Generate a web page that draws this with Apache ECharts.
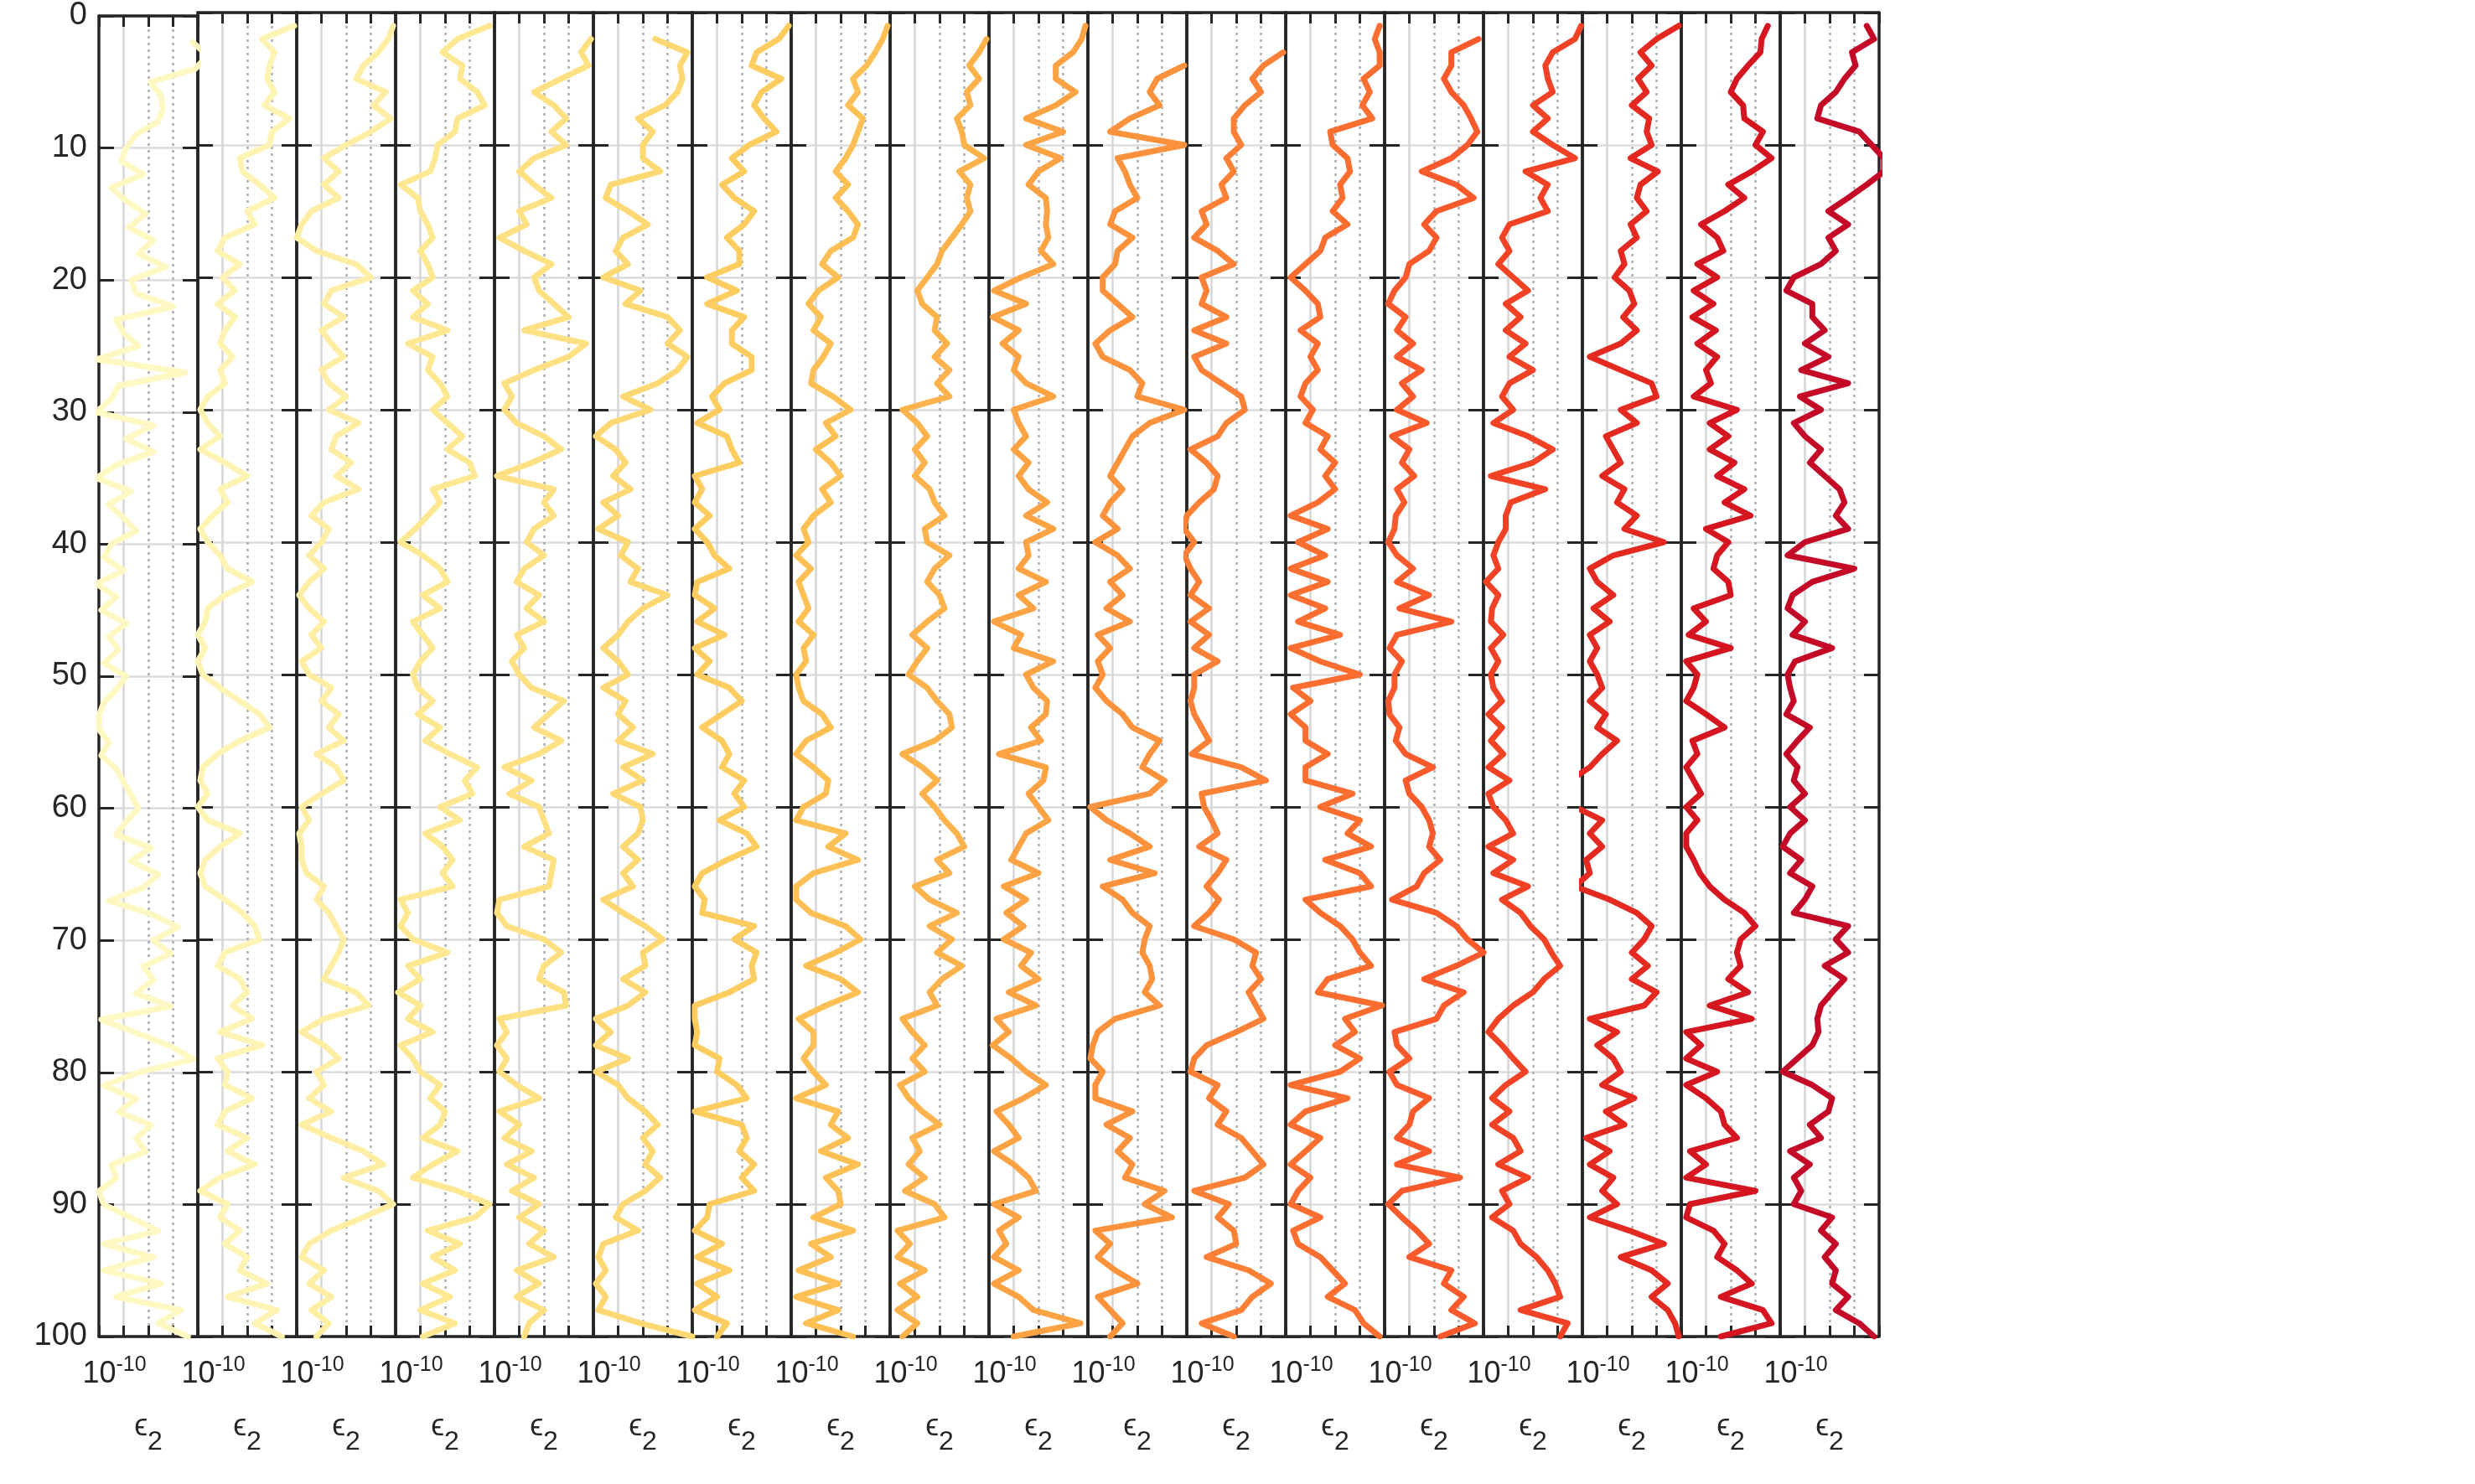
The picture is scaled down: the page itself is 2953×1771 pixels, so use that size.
<!DOCTYPE html>
<html><head><meta charset="utf-8">
<script src="https://cdn.jsdelivr.net/npm/echarts@6/dist/echarts.min.js"></script>
<style>html,body{margin:0;padding:0;background:#fff}#c{width:2953px;height:1771px}</style>
</head><body><div id="c"></div>
<script>
// depth samples (y axis, reversed)
const depth = [1,2,3,4,5,6,7,8,9,10,11,12,13,14,15,16,17,18,19,20,21,22,23,24,25,26,27,28,29,30,31,32,33,34,35,36,37,38,39,40,41,42,43,44,45,46,47,48,49,50,51,52,53,54,55,56,57,58,59,60,61,62,63,64,65,66,67,68,69,70,71,72,73,74,75,76,77,78,79,80,81,82,83,84,85,86,87,88,89,90,91,92,93,94,95,96,97,98,99,100];
const yTickValues = [0,10,20,30,40,50,60,70,80,90,100];
const xTickLabelBase = '10';
const xTickLabelExp = '-10';
const xName = ['\u03F5','2'];
// log10(epsilon_2) (null = no sample drawn)
const logEps01 = [null,-7.2,-6.6,-7.1,-8.9,-8.5,-8.4,-8.6,-9.5,-9.9,-10.1,-9.2,-10.5,-9.9,-9.1,-9.8,-8.8,-9.4,-8.3,-9.7,-9.5,-8.0,-10.3,-10.0,-9.4,-11.1,-7.5,-10.2,-10.5,-11.1,-8.8,-9.9,-8.8,-10.3,-11.1,-9.7,-10.6,-10.0,-9.5,-10.5,-10.8,-10.0,-11.1,-10.3,-10.9,-9.9,-10.6,-10.2,-10.8,-9.9,-10.3,-10.8,-11.0,-11.0,-10.6,-10.9,-10.3,-10.0,-9.7,-9.4,-9.9,-10.3,-8.9,-9.7,-8.6,-9.2,-10.6,-8.9,-7.8,-8.8,-8.1,-9.2,-8.8,-9.5,-8.1,-10.9,-9.5,-8.1,-7.2,-9.4,-10.8,-9.5,-10.2,-8.9,-9.5,-9.1,-10.5,-10.3,-11.0,-10.8,-9.7,-8.6,-10.8,-8.8,-10.8,-8.5,-10.3,-7.7,-8.6,-7.4];
const logEps02 = [-7.1,-8.4,-7.9,-8.1,-8.2,-7.9,-8.3,-7.3,-8.0,-8.1,-9.3,-9.2,-8.5,-7.9,-9.0,-8.7,-9.9,-10.2,-9.3,-10.0,-9.5,-10.2,-9.5,-9.9,-10.1,-9.6,-10.1,-9.9,-10.6,-10.9,-10.6,-10.1,-10.9,-9.9,-9.0,-10.1,-9.8,-10.4,-10.9,-10.6,-10.1,-9.8,-8.8,-9.9,-10.6,-10.7,-11.0,-10.7,-11.0,-10.8,-10.1,-9.3,-8.5,-8.1,-9.3,-10.2,-10.8,-10.9,-10.6,-11.0,-10.6,-9.3,-10.1,-10.7,-10.9,-10.7,-9.9,-9.2,-8.7,-8.5,-9.9,-10.2,-9.3,-9.0,-9.6,-8.8,-10.1,-8.4,-10.2,-9.8,-9.9,-8.8,-9.9,-10.2,-9.0,-9.8,-8.7,-10.1,-10.9,-9.8,-10.1,-9.3,-9.9,-9.0,-9.3,-8.2,-9.8,-7.8,-8.7,-7.6];
const logEps03 = [-7.1,-7.3,-7.7,-8.3,-8.6,-7.4,-7.9,-7.2,-8.0,-9.0,-9.9,-9.3,-9.9,-9.3,-10.4,-10.8,-11.0,-10.2,-8.6,-8.0,-9.6,-9.9,-9.1,-10.0,-9.6,-9.1,-10.0,-9.7,-9.0,-9.7,-8.5,-9.4,-9.6,-8.8,-9.4,-8.5,-9.9,-10.4,-9.7,-10.0,-10.5,-9.9,-10.5,-10.9,-10.5,-9.9,-10.4,-10.0,-10.8,-10.5,-9.6,-10.0,-9.3,-9.7,-9.1,-10.2,-9.4,-9.1,-10.0,-10.8,-10.5,-10.9,-10.8,-10.8,-10.6,-9.9,-10.2,-9.7,-9.4,-9.1,-9.3,-9.6,-9.9,-8.6,-8.1,-9.9,-10.8,-9.9,-9.3,-10.2,-9.9,-10.5,-9.6,-10.8,-9.6,-8.3,-7.5,-9.1,-7.7,-7.1,-8.3,-9.6,-10.5,-10.8,-9.9,-10.5,-9.6,-10.4,-9.7,-10.2];
const logEps04 = [-7.2,-8.5,-9.1,-8.3,-8.4,-7.7,-7.4,-8.5,-8.6,-9.3,-9.4,-9.6,-10.8,-10.1,-10.0,-9.7,-9.5,-10.0,-9.7,-9.5,-10.3,-9.7,-10.3,-8.9,-10.5,-9.5,-9.7,-9.2,-8.9,-9.5,-8.9,-8.3,-8.9,-8.0,-7.8,-9.5,-9.2,-9.7,-10.2,-10.8,-9.9,-9.2,-8.9,-9.9,-9.2,-10.3,-9.9,-9.5,-10.0,-10.3,-10.1,-9.5,-10.1,-9.2,-9.8,-8.8,-7.7,-8.2,-7.9,-9.2,-8.4,-9.8,-9.1,-8.7,-9.1,-8.7,-10.8,-10.5,-10.8,-10.3,-8.9,-10.5,-10.0,-10.9,-10.0,-10.5,-9.5,-10.8,-10.3,-10.0,-9.2,-9.6,-9.0,-9.2,-9.9,-8.5,-9.5,-10.3,-8.5,-7.2,-7.8,-9.7,-8.4,-9.5,-8.6,-9.9,-8.8,-10.0,-8.6,-9.9];
const logEps05 = [null,-7.1,-7.5,-7.2,-8.3,-9.4,-8.6,-8.1,-8.7,-8.1,-9.4,-10.0,-9.4,-8.7,-10.0,-9.7,-10.8,-9.8,-8.7,-9.4,-9.2,-8.6,-8.0,-9.8,-7.3,-8.0,-9.4,-10.6,-10.3,-10.6,-10.1,-9.0,-8.3,-9.5,-10.9,-8.6,-9.0,-8.6,-9.4,-9.7,-9.0,-9.8,-10.1,-9.2,-9.7,-9.0,-10.1,-9.8,-10.3,-10.0,-9.5,-8.2,-8.8,-9.4,-8.3,-9.2,-10.6,-9.5,-10.4,-9.2,-9.0,-8.8,-9.8,-8.6,-8.7,-8.8,-10.8,-10.9,-10.5,-9.0,-8.3,-9.0,-9.2,-8.2,-8.1,-10.8,-10.5,-10.9,-10.5,-10.8,-10.1,-9.2,-10.8,-10.0,-10.6,-9.5,-10.5,-9.4,-10.3,-9.2,-10.0,-9.0,-9.6,-8.6,-10.1,-9.2,-10.1,-9.0,-9.6,-9.8];
const logEps06 = [null,-8.5,-7.2,-7.5,-7.4,-7.6,-8.1,-9.2,-8.6,-9.0,-9.0,-8.3,-10.3,-10.5,-9.6,-8.8,-9.8,-10.1,-9.6,-10.6,-9.1,-9.7,-8.0,-7.5,-8.0,-7.2,-7.6,-8.4,-9.8,-8.7,-10.3,-10.9,-10.1,-9.7,-10.2,-9.5,-10.6,-10.0,-10.8,-9.6,-9.9,-9.2,-9.5,-8.0,-9.0,-9.6,-10.0,-10.6,-10.0,-9.6,-10.6,-9.7,-10.0,-9.4,-10.0,-8.6,-9.8,-9.0,-10.2,-9.1,-9.0,-9.2,-9.8,-9.2,-9.8,-9.4,-10.6,-9.8,-8.9,-8.2,-9.0,-8.9,-9.8,-8.9,-9.6,-10.9,-10.3,-10.9,-9.6,-10.9,-10.0,-9.6,-8.9,-8.4,-9.0,-8.6,-8.9,-8.3,-8.9,-9.8,-10.1,-9.2,-10.6,-10.8,-10.5,-10.9,-10.5,-10.8,-9.1,-7.0];
const logEps07 = [-7.1,-7.5,-8.4,-8.6,-7.4,-8.2,-8.5,-8.1,-7.6,-8.7,-9.4,-8.9,-9.8,-9.3,-8.5,-8.9,-9.6,-9.1,-9.1,-10.4,-9.2,-10.4,-8.9,-9.4,-9.4,-8.6,-8.6,-9.7,-10.2,-9.9,-10.8,-9.6,-9.4,-9.1,-10.9,-10.6,-10.9,-10.3,-10.9,-10.4,-10.1,-9.5,-10.8,-10.9,-10.1,-10.8,-9.7,-10.9,-10.3,-10.8,-9.5,-9.0,-9.8,-10.6,-9.8,-9.5,-9.8,-8.9,-9.3,-8.9,-9.9,-8.8,-8.4,-9.6,-10.6,-10.9,-10.5,-10.6,-8.5,-9.3,-8.4,-8.6,-8.5,-9.5,-10.9,-10.9,-10.8,-10.9,-9.9,-10.0,-9.2,-8.8,-10.9,-9.0,-8.8,-9.1,-8.5,-9.0,-8.5,-10.3,-10.4,-10.9,-9.8,-10.8,-9.5,-10.8,-10.0,-10.9,-9.6,-10.0];
const logEps08 = [-7.1,-7.3,-7.6,-7.95,-8.5,-8.3,-8.7,-8.1,-8.3,-8.5,-8.8,-9.2,-8.7,-9.2,-8.7,-8.3,-8.5,-9.4,-9.75,-9.1,-9.9,-10.3,-9.8,-10.1,-9.4,-9.7,-10.1,-10.2,-9.3,-8.6,-9.6,-9.2,-10.0,-9.4,-9.0,-9.75,-9.4,-10.1,-10.5,-10.3,-10.8,-10.2,-10.7,-10.5,-10.3,-10.7,-10.1,-10.5,-10.4,-10.8,-10.7,-10.5,-9.75,-9.4,-10.4,-10.8,-10.1,-9.5,-9.6,-10.5,-10.8,-8.8,-9.5,-8.3,-10.1,-10.8,-10.8,-10.2,-8.8,-8.2,-9.2,-10.4,-9.0,-8.3,-9.6,-10.7,-10.1,-10.1,-10.5,-10.1,-9.6,-10.8,-9.1,-9.4,-8.7,-9.8,-8.3,-9.6,-9.1,-9.0,-10.1,-8.5,-10.2,-9.4,-10.7,-9.1,-10.8,-9.1,-10.4,-8.5];
const logEps09 = [null,-7.1,-7.4,-7.8,-7.4,-7.9,-7.75,-8.3,-8.1,-8.0,-7.2,-8.2,-7.75,-7.9,-7.75,-8.1,-8.5,-8.9,-9.1,-9.5,-9.9,-9.7,-9.1,-9.2,-8.7,-9.2,-8.6,-9.1,-8.6,-10.5,-9.9,-9.5,-10.0,-9.6,-10.0,-9.4,-9.2,-8.8,-9.6,-9.5,-8.6,-9.2,-9.5,-9.0,-8.8,-9.5,-10.1,-9.5,-9.9,-10.25,-9.5,-9.1,-8.6,-8.5,-9.2,-10.5,-9.7,-9.1,-9.7,-9.2,-8.8,-8.3,-8.0,-9.1,-8.6,-10.0,-9.4,-8.3,-9.4,-8.5,-9.1,-8.1,-8.9,-9.4,-9.1,-10.5,-10.1,-9.6,-10.1,-9.6,-10.6,-10.25,-9.7,-9.0,-10.1,-9.8,-10.25,-9.6,-10.4,-9.2,-8.8,-10.7,-10.2,-10.7,-9.6,-10.6,-9.9,-10.7,-9.9,-10.5];
const logEps10 = [-7.1,-7.25,-7.6,-8.3,-8.3,-7.5,-8.3,-9.5,-8.0,-9.5,-8.1,-9.0,-9.4,-8.7,-8.65,-8.7,-8.6,-8.9,-8.4,-9.7,-10.8,-9.5,-10.85,-9.8,-10.45,-9.8,-10.0,-9.5,-8.4,-10.0,-9.8,-9.5,-10.0,-9.4,-9.8,-9.4,-8.65,-9.5,-8.4,-9.5,-9.4,-9.8,-8.7,-9.8,-9.2,-10.8,-9.7,-10.0,-8.4,-9.5,-9.2,-8.65,-8.7,-9.3,-8.9,-10.6,-8.7,-8.8,-9.4,-9.0,-8.6,-9.5,-9.8,-10.1,-9.0,-10.4,-9.5,-10.3,-9.6,-10.4,-9.3,-9.7,-9.0,-10.2,-9.1,-10.7,-10.2,-10.85,-10.1,-9.5,-8.7,-9.6,-10.7,-10.2,-9.8,-10.8,-10.0,-9.4,-9.1,-10.8,-9.8,-10.6,-10.3,-10.8,-9.8,-10.8,-9.8,-9.2,-7.3,-10.0];
const logEps11 = [null,null,null,-7.1,-8.2,-8.5,-8.1,-9.3,-10.1,-7.1,-9.8,-9.5,-9.3,-9.0,-9.9,-10.1,-9.2,-9.8,-9.9,-10.4,-10.4,-9.8,-9.2,-10.1,-10.7,-10.4,-9.3,-8.8,-9.0,-7.1,-8.5,-9.2,-9.5,-9.8,-10.1,-9.6,-10.1,-10.4,-9.8,-10.7,-9.8,-9.3,-10.1,-9.6,-10.25,-9.3,-10.6,-10.1,-10.6,-10.4,-10.7,-10.25,-9.6,-9.2,-8.1,-8.5,-8.8,-7.9,-8.5,-10.9,-10.25,-9.3,-8.5,-10.1,-8.3,-10.4,-9.6,-9.2,-8.5,-8.7,-8.8,-8.5,-8.4,-8.7,-8.1,-9.9,-10.6,-10.8,-10.9,-10.4,-10.7,-10.7,-9.2,-10.25,-9.3,-9.8,-9.2,-9.5,-7.9,-8.7,-7.6,-10.7,-10.1,-10.6,-9.9,-9.0,-10.6,-10.1,-9.6,-10.1];
const logEps12 = [null,null,-7.1,-7.9,-8.35,-8.0,-8.65,-9.1,-9.1,-8.8,-9.4,-9.1,-9.6,-9.4,-10.4,-10.2,-10.7,-9.75,-9.1,-10.4,-10.2,-10.4,-9.4,-10.7,-9.4,-10.7,-10.4,-9.6,-8.8,-8.65,-9.4,-9.75,-10.85,-10.2,-9.75,-9.9,-10.5,-11.0,-11.1,-10.7,-11.1,-10.85,-10.5,-10.85,-10.1,-10.85,-10.1,-10.7,-9.75,-10.7,-10.7,-10.85,-10.7,-10.4,-10.1,-10.8,-8.8,-7.8,-10.4,-10.3,-10.0,-9.75,-10.5,-9.4,-9.75,-10.2,-9.7,-10.1,-10.7,-9.1,-8.2,-8.35,-8.0,-8.5,-8.2,-7.9,-9.0,-10.2,-10.7,-10.85,-9.75,-10.1,-9.4,-9.75,-8.8,-8.35,-7.9,-8.65,-10.7,-9.3,-9.75,-9.1,-9.0,-10.2,-8.5,-7.6,-8.35,-8.8,-10.4,-9.1];
const logEps13 = [-7.2,-7.4,-7.2,-7.2,-7.85,-7.6,-7.9,-7.5,-9.2,-9.1,-8.5,-8.4,-8.8,-8.7,-9.1,-8.5,-9.4,-9.6,-10.2,-10.8,-10.2,-9.7,-9.6,-10.4,-9.7,-10.0,-9.7,-10.2,-10.4,-9.9,-10.2,-9.3,-9.6,-9.0,-9.4,-9.0,-9.7,-10.8,-9.3,-10.5,-9.4,-10.8,-9.3,-10.8,-9.4,-10.5,-8.8,-10.8,-9.6,-8.0,-10.7,-10.0,-10.8,-10.2,-10.2,-9.3,-10.2,-10.2,-8.3,-9.6,-8.0,-8.5,-7.55,-9.4,-8.0,-7.55,-10.2,-9.6,-8.8,-8.3,-8.0,-7.55,-9.3,-9.7,-7.1,-8.6,-8.2,-9.0,-8.0,-8.8,-10.8,-8.5,-10.2,-10.8,-9.6,-10.2,-10.8,-10.0,-10.5,-10.8,-9.6,-10.7,-10.5,-9.6,-9.1,-8.6,-9.3,-8.2,-7.85,-7.2];
const logEps14 = [null,-7.2,-8.3,-8.3,-8.6,-8.3,-7.8,-7.5,-7.25,-7.65,-8.3,-9.5,-8.1,-7.4,-8.9,-9.4,-8.9,-9.2,-10.0,-10.15,-10.6,-10.85,-10.15,-10.5,-9.85,-10.5,-9.5,-10.3,-9.85,-10.5,-9.3,-10.7,-10.0,-10.3,-9.8,-10.5,-10.2,-10.55,-10.6,-10.85,-10.5,-9.85,-10.5,-9.2,-10.4,-8.3,-10.5,-10.8,-10.3,-10.6,-10.6,-10.85,-10.8,-10.4,-10.55,-10.15,-9.05,-10.15,-10.0,-9.5,-9.2,-9.05,-9.2,-8.75,-9.4,-9.7,-10.7,-8.9,-8.1,-7.65,-7.0,-8.1,-9.4,-7.8,-8.6,-8.9,-10.6,-10.5,-10.0,-10.8,-10.5,-9.2,-9.85,-10.0,-10.5,-9.2,-10.5,-7.95,-10.3,-10.85,-10.3,-9.7,-9.2,-10.0,-8.3,-8.6,-7.8,-8.3,-7.35,-8.75];
const logEps15 = [-7.05,-7.3,-8.2,-8.5,-8.4,-8.2,-9.0,-8.4,-9.0,-8.2,-7.3,-9.3,-8.4,-8.7,-8.4,-9.95,-10.25,-9.95,-10.4,-9.8,-9.2,-10.1,-9.5,-10.1,-9.3,-9.95,-9.0,-9.95,-10.25,-9.8,-10.6,-9.2,-8.2,-9.0,-10.7,-8.5,-9.9,-10.1,-10.1,-10.4,-10.6,-10.4,-10.9,-10.4,-10.65,-10.7,-10.2,-10.7,-10.4,-10.7,-10.6,-10.25,-10.8,-10.25,-10.7,-10.2,-10.8,-9.95,-10.8,-10.6,-10.1,-9.8,-10.8,-9.8,-10.6,-9.2,-10.25,-9.5,-9.1,-8.55,-8.25,-7.9,-8.55,-9.0,-9.8,-10.4,-10.8,-10.25,-9.8,-9.3,-10.1,-10.65,-9.95,-10.65,-9.8,-9.5,-10.4,-9.2,-10.25,-9.95,-10.65,-9.8,-9.5,-8.85,-8.4,-8.1,-7.9,-9.5,-7.6,-7.9];
const logEps16 = [-7.1,-8.0,-8.65,-8.2,-8.75,-8.4,-9.0,-8.3,-8.4,-8.2,-9.05,-7.95,-8.65,-8.8,-8.4,-9.05,-8.8,-9.45,-9.3,-9.7,-9.1,-8.9,-9.35,-8.8,-9.45,-10.7,-9.45,-8.2,-8.0,-9.45,-8.8,-10.05,-9.75,-9.45,-10.2,-9.3,-9.6,-8.8,-9.3,-7.7,-9.75,-10.7,-10.4,-9.75,-10.55,-9.9,-10.7,-10.4,-10.7,-10.4,-10.2,-10.7,-10.05,-10.4,-9.6,-10.2,-10.7,-11.5,-11.5,-11.3,-10.2,-10.7,-10.2,-10.85,-10.7,-11.3,-9.9,-8.8,-8.2,-8.5,-9.0,-8.35,-9.0,-8.0,-8.5,-10.7,-9.6,-10.4,-9.75,-9.45,-10.2,-8.9,-10.05,-9.3,-10.85,-9.9,-10.7,-9.75,-10.2,-9.6,-10.7,-9.1,-7.7,-9.45,-8.2,-7.55,-8.2,-7.55,-7.25,-7.1];
const logEps17 = [-7.5,-7.75,-7.8,-8.3,-8.75,-9.0,-8.5,-8.45,-7.7,-8.0,-7.35,-8.15,-9.1,-8.45,-9.25,-10.2,-9.55,-9.3,-10.35,-9.55,-10.5,-9.7,-10.55,-9.6,-10.35,-9.55,-10.0,-9.8,-10.5,-8.75,-9.85,-9.1,-9.85,-8.85,-9.55,-8.45,-9.25,-8.2,-10.0,-9.1,-9.55,-9.7,-9.1,-9.0,-10.5,-10.0,-10.7,-9.0,-10.8,-10.35,-10.5,-10.8,-10.0,-9.25,-10.55,-10.35,-10.8,-10.5,-10.2,-10.8,-10.35,-10.8,-10.8,-10.5,-10.25,-9.85,-9.25,-8.45,-8.0,-8.6,-8.75,-8.6,-9.1,-8.3,-9.85,-8.15,-10.8,-10.2,-10.8,-9.55,-10.8,-10.0,-9.4,-9.25,-8.75,-10.65,-10.0,-10.8,-8.0,-10.65,-10.8,-9.7,-9.25,-9.55,-8.75,-8.15,-9.4,-7.7,-7.35,-9.4];
const logEps18 = [-7.5,-7.2,-8.1,-7.95,-8.4,-8.75,-9.35,-9.5,-7.8,-7.3,-6.8,-6.8,-7.5,-8.25,-9.05,-8.25,-9.05,-8.75,-9.35,-10.45,-10.75,-9.7,-9.7,-9.2,-10.0,-9.05,-10.15,-8.25,-10.2,-9.35,-10.45,-10.0,-9.35,-9.8,-9.2,-8.6,-8.4,-8.75,-8.25,-10.0,-10.7,-8.0,-9.7,-10.5,-10.7,-10.0,-10.5,-8.9,-10.4,-10.7,-10.6,-10.45,-10.75,-9.8,-10.3,-10.75,-10.3,-10.45,-10.0,-10.6,-10.0,-10.6,-10.9,-10.15,-10.6,-9.7,-10.0,-10.45,-8.25,-8.75,-8.25,-9.2,-8.4,-8.9,-9.35,-9.5,-9.45,-9.7,-10.3,-10.9,-9.7,-8.9,-9.05,-9.8,-9.35,-10.6,-9.8,-10.45,-10.15,-10.45,-8.9,-9.35,-8.75,-9.2,-8.75,-8.9,-8.25,-8.75,-7.8,-7.2];

const panels = [logEps01,logEps02,logEps03,logEps04,logEps05,logEps06,logEps07,logEps08,logEps09,logEps10,logEps11,logEps12,logEps13,logEps14,logEps15,logEps16,logEps17,logEps18];
const colors = ['#FFF8C2','#FFF4B3','#FFEEA4','#FFE892','#FFE183','#FED872','#FECC5F','#FEC055','#FEB24C','#FDA344','#FD923D','#FC8035','#FC6D30','#F9592B','#F24225','#E42A20','#D5151F','#C50A28'];

const FONT = 'Liberation Sans';
const INK = '#262626';
const L0 = 118, PW = 118, TOP = 15, H = 1580;
const XMIN = 1e-11, XMAX = 1e-7;
const grids = [], xAxes = [], yAxes = [], series = [];
const NONE = 'rgba(0,0,0,0)';

panels.forEach((vals, i) => {
  grids.push({ left: L0 + i * PW, top: TOP, width: PW, height: H, containLabel: false });
  const axLine = { show: true, onZero: false, lineStyle: { color: INK, width: 3.5 } };
  // bottom axis: labels, name, dotted minor grid (decades 1e-9, 1e-8)
  xAxes.push({
    type: 'log', logBase: 10, gridIndex: i, position: 'bottom', min: XMIN, max: XMAX, splitNumber: 4,
    axisLine: axLine,
    axisTick: { show: true, inside: true, length: 13, lineStyle: { color: INK, width: 3 } },
    axisLabel: {
      show: true, margin: 22, color: INK, fontFamily: FONT, fontSize: 36,
      showMinLabel: true, showMaxLabel: true, padding: [0, 22, 0, 0],
      formatter: v => Math.round(Math.log10(v)) === -10 ? '{b|' + xTickLabelBase + '}{s|' + xTickLabelExp + '}' : '',
      rich: {
        b: { fontSize: 36, padding: [0, 0, 0, 0] },
        s: { fontSize: 25, padding: [0, 0, 22, 0] }
      }
    },
    splitLine: { show: true, lineStyle: { color: [NONE, NONE, '#ADADAD', '#ADADAD', NONE], width: 2.5, type: [3, 5] } },
    name: '{e|' + xName[0] + '}{d|' + xName[1] + '}', nameLocation: 'middle', nameGap: 90,
    nameTextStyle: {
      color: INK, fontFamily: FONT, fontSize: 36,
      rich: {
        e: { fontSize: 36, padding: [0, 0, 16, 0] },
        d: { fontSize: 32, padding: [20, 0, 0, 0] }
      }
    }
  });
  // top axis: box edge, ticks, solid major grid at the labelled decade
  xAxes.push({
    type: 'log', logBase: 10, gridIndex: i, position: 'top', min: XMIN, max: XMAX, splitNumber: 4,
    axisLine: axLine,
    axisTick: { show: true, inside: true, length: 13, lineStyle: { color: INK, width: 3 } },
    axisLabel: { show: false },
    splitLine: { show: true, lineStyle: { color: [NONE, '#D6D6D6', NONE, NONE, NONE], width: 2.5, type: 'solid' } }
  });
  yAxes.push({
    type: 'value', gridIndex: i, position: 'left', inverse: true, min: 0, max: 100, interval: 10,
    axisLine: axLine,
    axisTick: { show: true, inside: true, length: 18, lineStyle: { color: INK, width: 3 } },
    axisLabel: { show: i === 0, margin: 14, color: INK, fontSize: 38, fontFamily: FONT,
      customValues: yTickValues },
    splitLine: { show: true, lineStyle: { color: '#DCDCDC', width: 2.5 } }
  });
  yAxes.push({
    type: 'value', gridIndex: i, position: 'right', inverse: true, min: 0, max: 100, interval: 10,
    axisLine: axLine,
    axisTick: { show: true, inside: true, length: 18, lineStyle: { color: INK, width: 3 } },
    axisLabel: { show: false }, splitLine: { show: false }
  });
  series.push({
    type: 'line', xAxisIndex: 2 * i, yAxisIndex: 2 * i, z: 3,
    data: depth.map((d, k) => [vals[k] === null ? '-' : Math.pow(10, vals[k]), d]),
    showSymbol: false, symbol: 'none', clip: true, connectNulls: false,
    lineStyle: { color: colors[i], width: 7, cap: 'round', join: 'round' },
    animation: false
  });
});

const chart = echarts.init(document.getElementById('c'), null, { renderer: 'canvas' });
chart.setOption({
  backgroundColor: '#ffffff',
  animation: false,
  grid: grids, xAxis: xAxes, yAxis: yAxes, series: series
});
</script></body></html>
